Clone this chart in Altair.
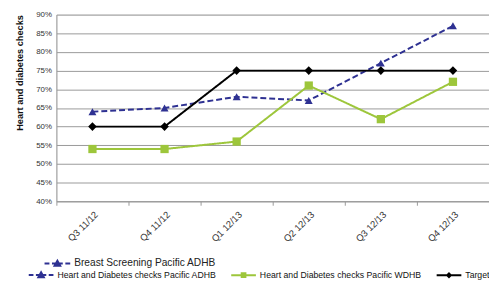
import altair as alt
import pandas as pd

quarters = ["Q3 11/12", "Q4 11/12", "Q1 12/13", "Q2 12/13", "Q3 12/13", "Q4 12/13"]
series_names = ["Heart and Diabetes checks Pacific ADHB",
                "Heart and Diabetes checks Pacific WDHB",
                "Target"]
adhb = [0.64, 0.65, 0.68, 0.67, 0.77, 0.87]
wdhb = [0.54, 0.54, 0.56, 0.71, 0.62, 0.72]
target = [0.60, 0.60, 0.75, 0.75, 0.75, 0.75]
extra_legend = ["Breast Screening Pacific ADHB"]
y_ticks = [0.40, 0.45, 0.50, 0.55, 0.60, 0.65, 0.70, 0.75, 0.80, 0.85, 0.90]

colors = ["#2E3192", "#9DC63B", "#000000"]

rows = []
for name, vals in zip(series_names, [adhb, wdhb, target]):
    for q, v in zip(quarters, vals):
        rows.append({"quarter": q, "series": name, "value": v,
                     "bs": extra_legend[0]})
df = pd.DataFrame(rows)

FONT = "Liberation Sans"

x_enc = alt.X("quarter:N", sort=quarters, bandPosition=0.5,
              scale=alt.Scale(type="band", domain=quarters, paddingInner=0, paddingOuter=0),
              axis=alt.Axis(title=None, labelAngle=-45, labelAlign="right", labelBaseline="top",
                            tickBand="extent", grid=False, labelFontSize=9.5,
                            labelColor="#333333", tickColor="#999999", tickSize=4,
                            domainColor="#999999", labelPadding=4))
y_enc = alt.Y("value:Q",
              scale=alt.Scale(domain=[0.40, 0.90], nice=False, zero=False),
              axis=alt.Axis(title="Heart and diabetes checks", values=y_ticks, format=".0%",
                            labelFontSize=8, labelColor="#333333", titleFontSize=9.3,
                            titleFontWeight="bold", titleColor="#111111", gridColor="#999999",
                            gridWidth=1, domainColor="#999999", ticks=False, labelPadding=5,
                            titlePadding=11, titleAnchor="end"))

base = alt.Chart(df)

lines = base.mark_line(strokeWidth=2).encode(
    x=x_enc, y=y_enc,
    color=alt.Color("series:N", scale=alt.Scale(domain=series_names, range=colors), legend=None),
    strokeDash=alt.StrokeDash("series:N", scale=alt.Scale(domain=series_names,
                              range=[[6, 3], [1, 0], [1, 0]]), legend=None),
)

points = base.mark_point(filled=True, opacity=1).encode(
    x=x_enc, y=y_enc,
    color=alt.Color("series:N", scale=alt.Scale(domain=series_names, range=colors), legend=None),
    shape=alt.Shape("series:N", scale=alt.Scale(domain=series_names,
                    range=["triangle-up", "square", "diamond"]), legend=None),
    size=alt.Size("series:N", scale=alt.Scale(domain=series_names, range=[65, 75, 45]), legend=None),
)

path_adhb = "M-1,0H-0.62M-0.42,0H0.42M0.62,0H1M0,-0.22L0.22,0.17H-0.22Z"
path_wdhb = "M-1,0H1M-0.15,-0.15H0.15V0.15H-0.15Z"
path_target = "M-1,0H1M0,-0.15L0.15,0L0,0.15L-0.15,0Z"

legend_main = base.transform_filter("false").mark_point(filled=True, strokeWidth=2, opacity=1).encode(
    fill=alt.Fill("series:N", scale=alt.Scale(domain=series_names, range=colors),
                  legend=alt.Legend(title=None, orient="none", legendX=-29, legendY=250,
                                    direction="horizontal", columns=3, symbolSize=625,
                                    labelFontSize=8.8, labelFont=FONT, labelColor="#111111",
                                    columnPadding=11, symbolStrokeWidth=2, labelOffset=3,
                                    labelLimit=300)),
    stroke=alt.Stroke("series:N", scale=alt.Scale(domain=series_names, range=colors)),
    shape=alt.Shape("series:N", scale=alt.Scale(domain=series_names,
                    range=[path_adhb, path_wdhb, path_target])),
)

legend_bs = base.transform_filter("false").mark_point(filled=True, strokeWidth=2, opacity=1).encode(
    fill=alt.Fill("bs:N", scale=alt.Scale(domain=extra_legend, range=[colors[0]]),
                  legend=alt.Legend(title=None, orient="none", legendX=-13, legendY=238,
                                    symbolSize=676, labelFontSize=10.3, labelFont=FONT,
                                    labelColor="#222222", symbolStrokeWidth=2, labelOffset=3,
                                    labelLimit=300)),
    stroke=alt.Stroke("bs:N", scale=alt.Scale(domain=extra_legend, range=[colors[0]])),
    shape=alt.Shape("bs:N", scale=alt.Scale(domain=extra_legend, range=[path_adhb])),
)

chart = alt.layer(lines, points, legend_main, legend_bs).resolve_scale(
    color="independent", shape="independent", fill="independent",
    stroke="independent", size="independent", strokeDash="independent"
).properties(
    width=438, height=189,
    autosize=alt.AutoSizeParams(type="none"),
    padding={"left": 49, "top": 5, "right": 0, "bottom": 78},
).configure_view(stroke="#999999", strokeWidth=1).configure(font=FONT, background="white")

chart.save("out.html", embed_options={"renderer": "svg", "actions": False})
